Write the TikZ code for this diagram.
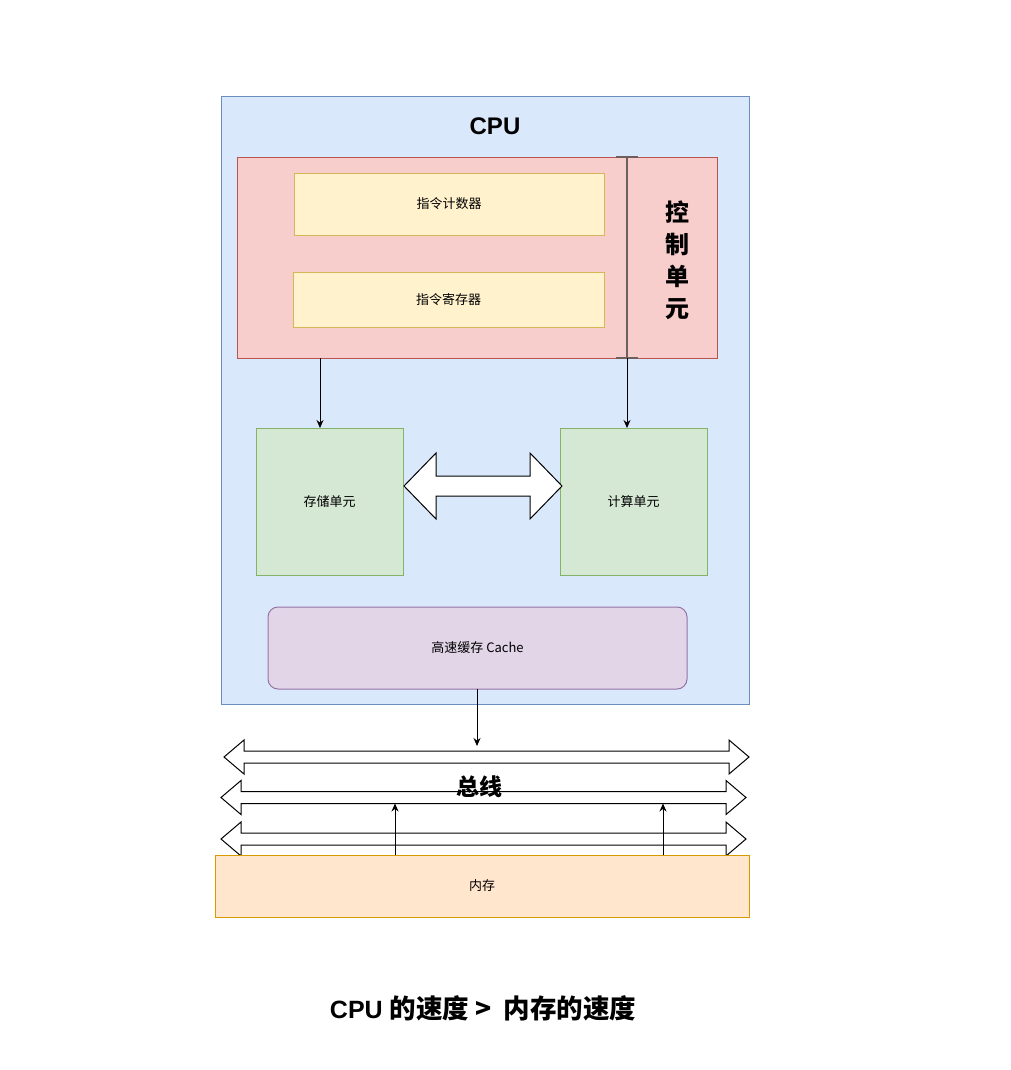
\documentclass[tikz,border=0pt]{standalone}
\usepackage{fontspec}
\setmainfont{Liberation Sans}
\newfontfamily\cjk{Noto Sans CJK SC}
\usetikzlibrary{arrows.meta}
\definecolor{cpuF}{HTML}{DAE8FC}\definecolor{cpuD}{HTML}{6C8EBF}
\definecolor{redF}{HTML}{F8CECC}\definecolor{redD}{HTML}{B85450}
\definecolor{yelF}{HTML}{FFF2CC}\definecolor{yelD}{HTML}{D6B656}
\definecolor{grnF}{HTML}{D5E8D4}\definecolor{grnD}{HTML}{82B366}
\definecolor{purF}{HTML}{E1D5E7}\definecolor{purD}{HTML}{9673A6}
\definecolor{orgF}{HTML}{FFE6CC}\definecolor{orgD}{HTML}{D79B00}
\definecolor{brk}{HTML}{6E5F5F}
\tikzset{
  boxst/.style={draw, line width=1pt, inner sep=0pt, outer sep=0pt, anchor=center, font=\cjk\fontsize{13}{15}\selectfont},
  conn/.style={line width=1pt, -{Stealth[length=8pt,width=7pt]}},
  blockarrow/.style={draw, fill=white, line width=1pt, line join=miter}
}
\begin{document}
\begin{tikzpicture}[x=1pt,y=-1pt]
\useasboundingbox (0,0) rectangle (1010,1070);
\fill[white] (0,0) rectangle (1010,1070);

% CPU container
\node[boxst, fill=cpuF, draw=cpuD, minimum width=528pt, minimum height=607pt] (cpu) at (485,400.5) {};
\node[font=\bfseries\fontsize{24}{28}\selectfont] (cputitle) at (495,126) {CPU};

% control unit
\node[boxst, fill=redF, draw=redD, minimum width=480pt, minimum height=201pt] (ctrl) at (477,257.5) {};
\node[boxst, fill=yelF, draw=yelD, minimum width=310pt, minimum height=62pt] (pc) at (449,204) {指令计数器};
\node[boxst, fill=yelF, draw=yelD, minimum width=311pt, minimum height=55pt] (ir) at (448.5,299.5) {指令寄存器};
\node[align=center, font=\cjk\bfseries\fontsize{24}{32}\selectfont] (ctrllabel) at (677,260) {控\\制\\单\\元};

% bracket line
\coordinate (bt) at (627,157);
\coordinate (bb) at (627,358);
\draw[brk, line width=1.3pt] (bt) -- (bb);
\draw[brk, line width=1.3pt] ([xshift=-11pt]bt) -- ([xshift=11pt]bt);
\draw[brk, line width=1.3pt] ([xshift=-11pt]bb) -- ([xshift=11pt]bb);

% storage and compute
\node[boxst, fill=grnF, draw=grnD, minimum width=147pt, minimum height=147pt] (store) at (329.5,501.5) {存储单元};
\node[boxst, fill=grnF, draw=grnD, minimum width=147pt, minimum height=147pt] (calc) at (633.5,501.5) {计算单元};

\draw[conn] (ctrl.south -| 320,0) -- (store.north -| 320,0);
\draw[conn] (bb) -- (calc.north -| bb);

% block double arrow between store and calc
\draw[blockarrow] (404,486) -- (436,453) -- (436,476) -- (530,476) -- (530,453) -- (562,486)
  -- (530,519) -- (530,496) -- (436,496) -- (436,519) -- cycle;

% cache
\node[boxst, fill=purF, draw=purD, rounded corners=10pt, minimum width=419pt, minimum height=82pt] (cache) at (477.5,648) {高速缓存 Cache};

% bus arrows
\draw[blockarrow] (224,757) -- (244,740) -- (244,751) -- (729,751) -- (729,740) -- (749,757)
  -- (729,774) -- (729,763) -- (244,763) -- (244,774) -- cycle;
\draw[blockarrow] (221,797.5) -- (241,780.5) -- (241,791.5) -- (726,791.5) -- (726,780.5) -- (746,797.5)
  -- (726,814.5) -- (726,803.5) -- (241,803.5) -- (241,814.5) -- cycle;
\draw[blockarrow] (221,839) -- (241,822) -- (241,833) -- (726,833) -- (726,822) -- (746,839)
  -- (726,856) -- (726,845) -- (241,845) -- (241,856) -- cycle;
\node[font=\cjk\bfseries\fontsize{23}{28}\selectfont] (buslabel) at (479,787) {总线};

\coordinate (bus1) at (477,746);
\draw[conn] (cache.south -| bus1) -- (bus1);

% memory
\node[boxst, fill=orgF, draw=orgD, minimum width=534pt, minimum height=62pt] (mem) at (482,886) {内存};
\coordinate (up1) at (395,803.5);
\coordinate (up2) at (663,803.5);
\draw[conn] (mem.north -| up1) -- (up1);
\draw[conn] (mem.north -| up2) -- (up2);

% caption
\node[font=\bfseries\fontsize{25}{28}\selectfont] (caption) at (483,1008) {CPU {\cjk\fontsize{26.5}{28}\selectfont 的速度 >\ \ 内存的速度}};
\end{tikzpicture}
\end{document}
